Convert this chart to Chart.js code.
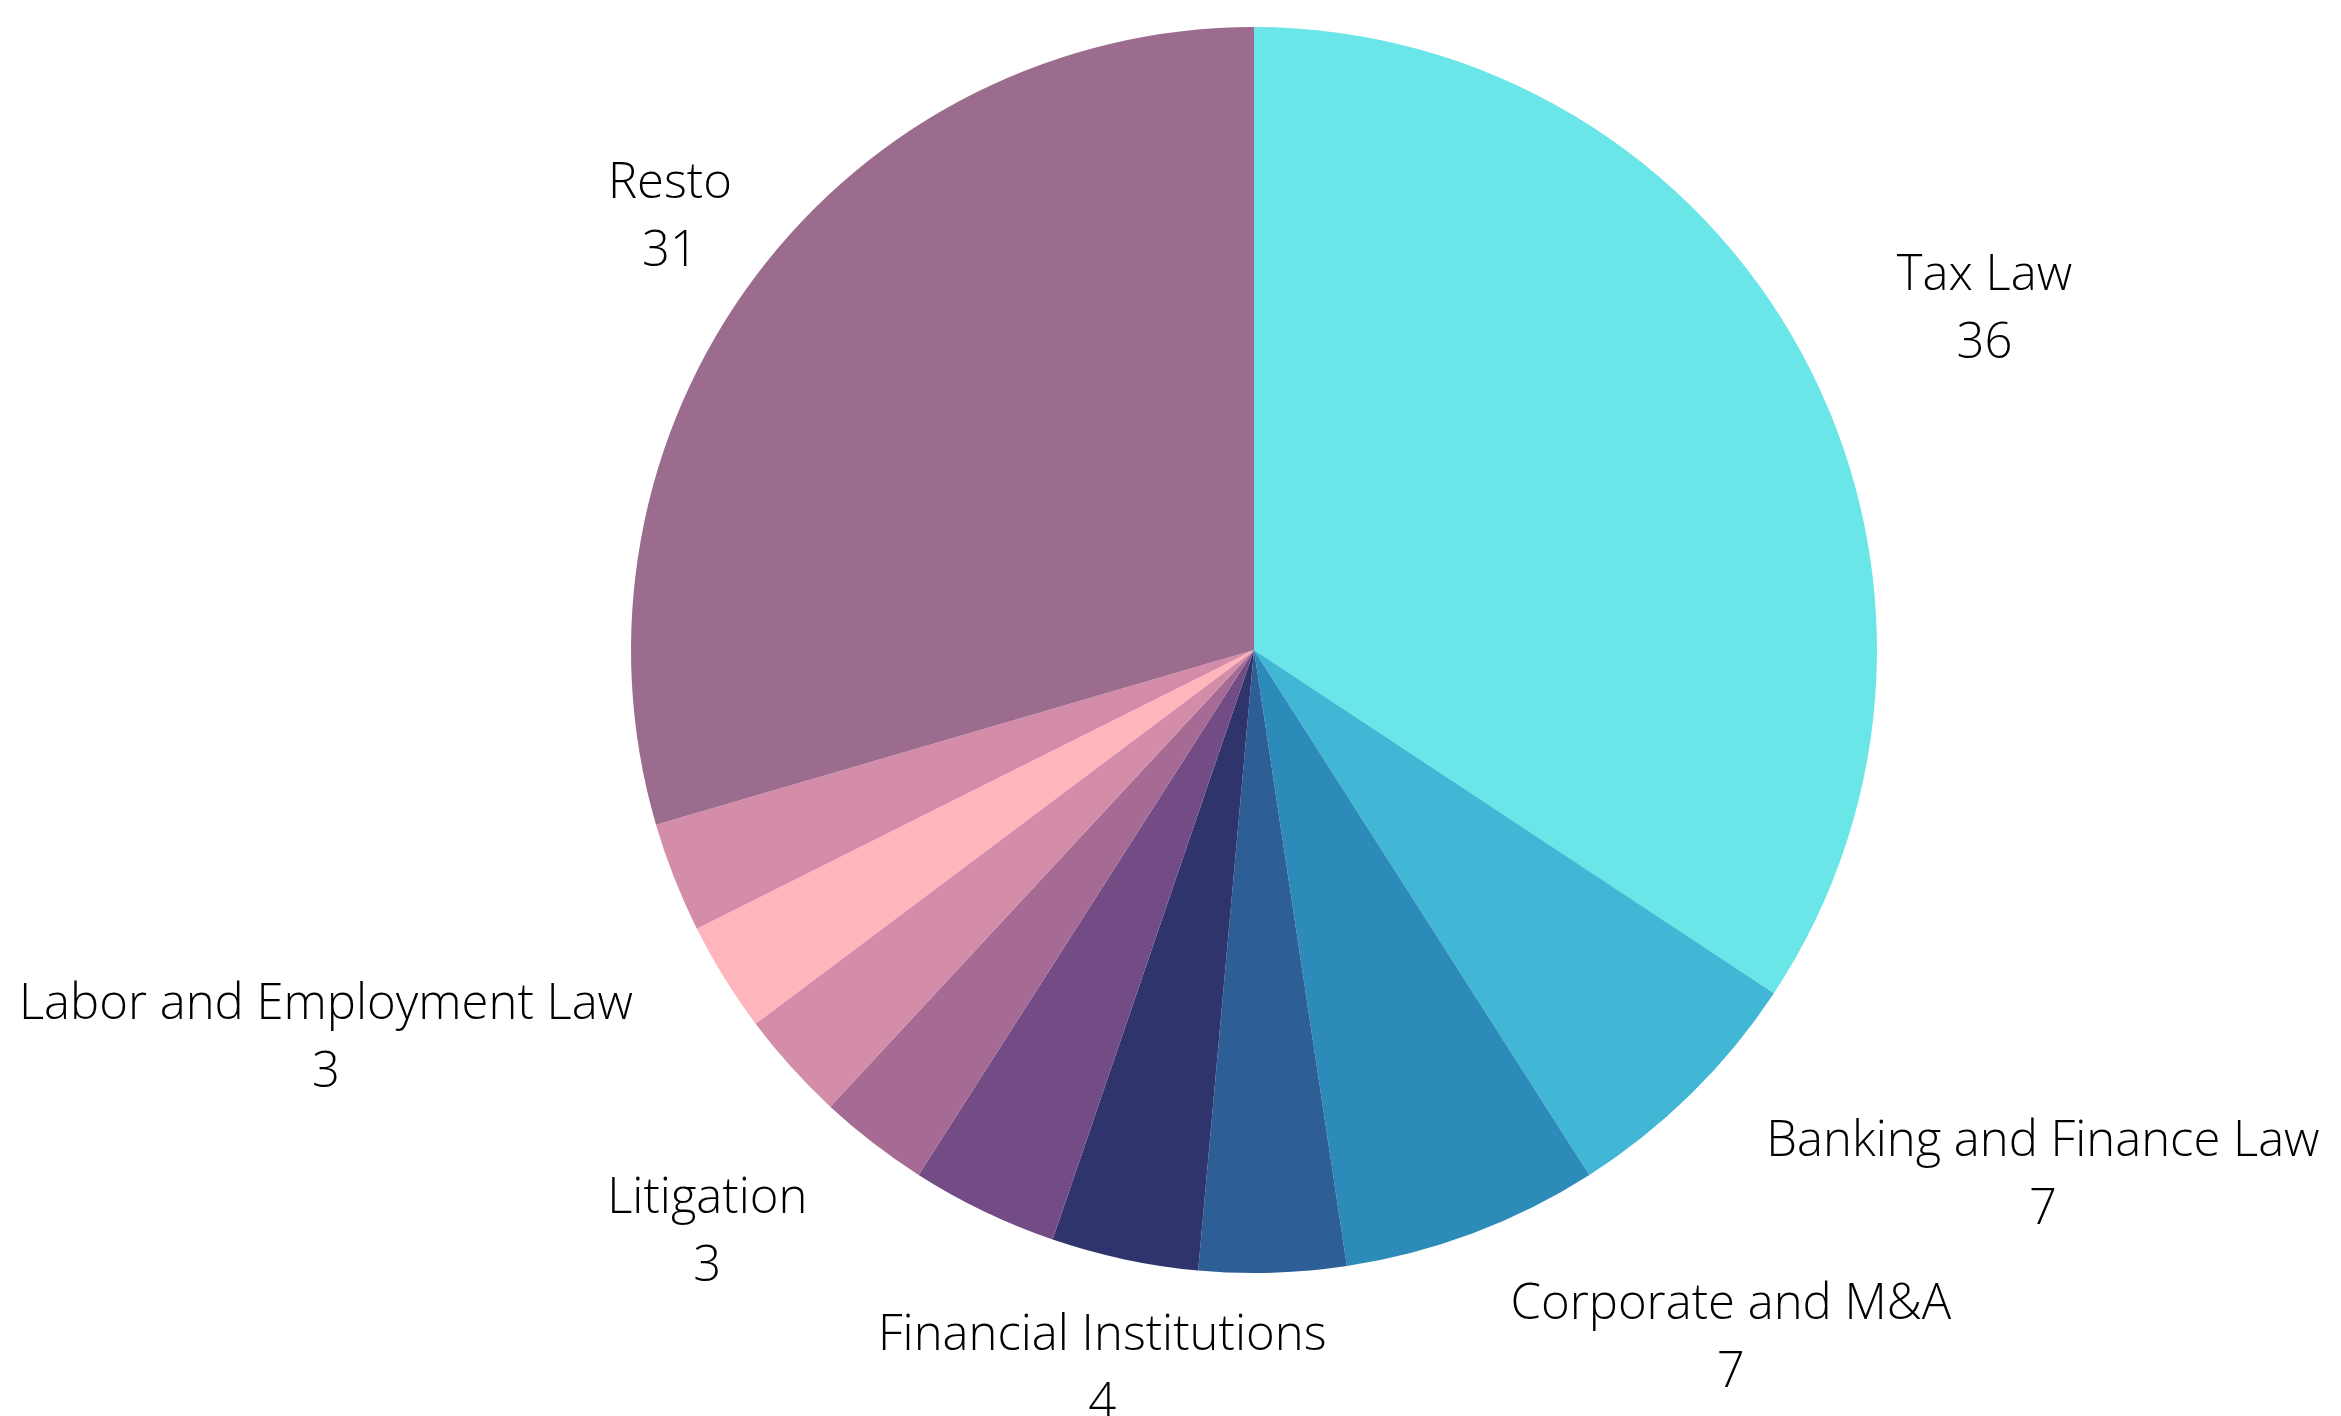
<!DOCTYPE html>
<html>
<head>
<meta charset="utf-8">
<title>Practice areas</title>
<script src="https://cdn.jsdelivr.net/npm/chart.js@4.4.1/dist/chart.umd.min.js"></script>
<style>
    html, body { margin: 0; padding: 0; background: #ffffff; }
    #wrap { width: 2341px; height: 1416px; }
</style>
</head>
<body>
<div id="wrap"><canvas id="practiceChart" width="2341" height="1416"></canvas></div>
<script>
// Practice areas, clockwise from 12 o'clock (unnamed slices carry no label)
const areas = [
    'Tax Law',
    'Banking and Finance Law',
    'Corporate and M&A',
    '',
    'Financial Institutions',
    '',
    'Litigation',
    '',
    'Labor and Employment Law',
    '',
    'Resto'
];
const counts = [36, 7, 7, 4, 4, 4, 3, 3, 3, 3, 31];
const sliceColors = [
    '#6ae5e8', '#41b6d5', '#2c8bb9', '#2e5e96', '#2f346c', '#734c86',
    '#a56b94', '#d48da8', '#feb5bb', '#d48da8', '#9c6c8f'
];

const FONT_SIZE = 49;
const LABEL_FONT = '300 ' + FONT_SIZE + 'px "Open Sans"';
const LINE_HEIGHT = 68;
const LABEL_GAP = 107;

// Two-line labels (name / value) sitting outside the pie
const outsideLabels = {
    id: 'outsideLabels',
    afterDatasetsDraw(chart) {
        const ctx = chart.ctx;
        const meta = chart.getDatasetMeta(0);
        const values = chart.data.datasets[0].data;
        ctx.save();
        ctx.font = LABEL_FONT;
        ctx.fillStyle = '#000000';
        ctx.textAlign = 'center';
        ctx.textBaseline = 'alphabetic';

        meta.data.forEach(function(arc, i) {
            const name = chart.data.labels[i];
            if (!name) return;
            const p = arc.getProps(['x', 'y', 'startAngle', 'endAngle', 'outerRadius'], true);
            const mid = (p.startAngle + p.endAngle) / 2;
            const r = p.outerRadius + LABEL_GAP;
            let cx = p.x + Math.cos(mid) * r;
            const cy = p.y + Math.sin(mid) * r;

            const lines = [name, String(values[i])];
            const w = Math.max.apply(null, lines.map(function(t) { return ctx.measureText(t).width; }));
            const h = LINE_HEIGHT * lines.length;

            // push the block sideways if it would cover the pie
            const nx = Math.max(cx - w / 2, Math.min(p.x, cx + w / 2));
            const ny = Math.max(cy - h / 2, Math.min(p.y, cy + h / 2));
            if (Math.hypot(nx - p.x, ny - p.y) < p.outerRadius) {
                cx += Math.sign(Math.cos(mid)) * w / 2;
            }

            const capHalf = FONT_SIZE * 0.357 + 2;
            lines.forEach(function(t, k) {
                const ly = cy + (k - (lines.length - 1) / 2) * LINE_HEIGHT + capHalf;
                ctx.fillText(t, cx, ly);
            });
        });
        ctx.restore();
    }
};

function initializePracticeChart() {
    const canvas = document.getElementById('practiceChart');
    new Chart(canvas.getContext('2d'), {
        type: 'pie',
        data: {
            labels: areas,
            datasets: [{
                data: counts,
                backgroundColor: sliceColors,
                borderWidth: 0,
                hoverOffset: 0
            }]
        },
        options: {
            responsive: false,
            animation: false,
            layout: {
                padding: { top: 27, bottom: 143, left: 631, right: 464 }
            },
            plugins: {
                legend: { display: false },
                tooltip: { enabled: false }
            }
        },
        plugins: [outsideLabels]
    });
}

document.fonts.load(LABEL_FONT).then(initializePracticeChart, initializePracticeChart);
</script>
</body>
</html>
